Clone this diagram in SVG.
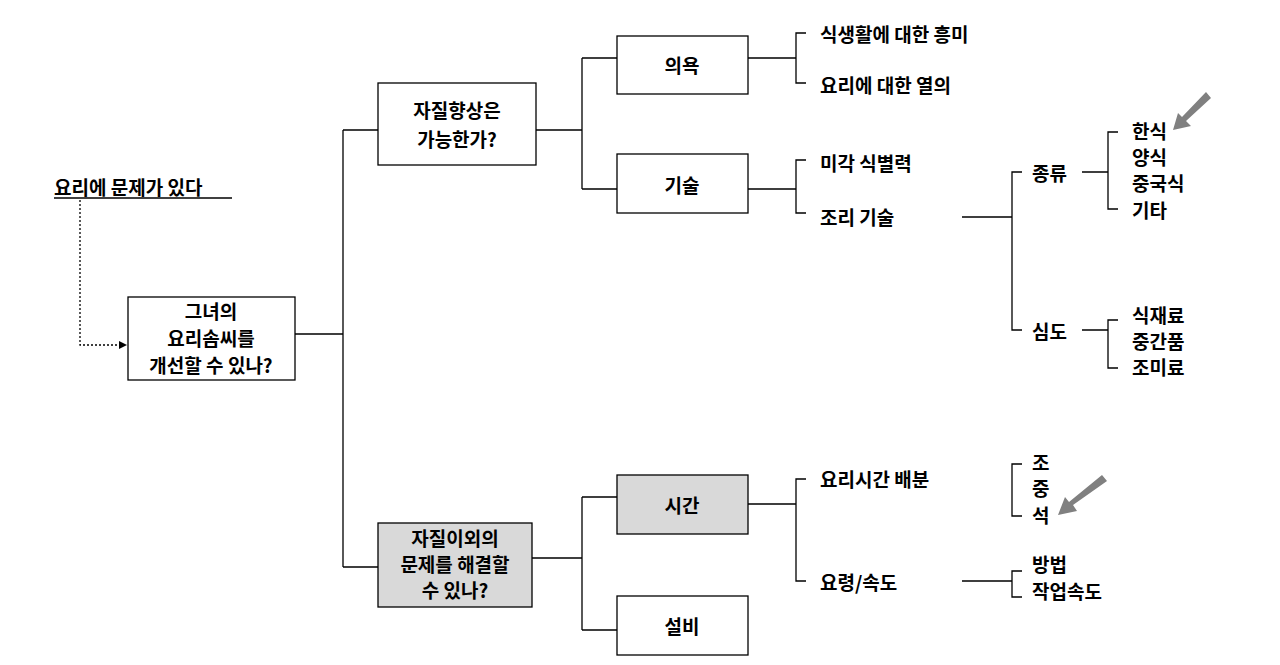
<svg xmlns="http://www.w3.org/2000/svg" width="1280" height="665" viewBox="0 0 1280 665">
<style>
text{font-family:"Noto Sans CJK KR","Noto Sans",sans-serif;font-weight:bold;font-size:19px;fill:#000;dominant-baseline:central}
.c{text-anchor:middle}
.box{fill:#fff;stroke:#000;stroke-width:1.3}
.g{fill:#d9d9d9}
#connectors path{fill:none;stroke:#000;stroke-width:1.3}
</style>
<defs>
<marker id="ah" markerWidth="8" markerHeight="8" refX="7" refY="4" orient="auto" markerUnits="userSpaceOnUse"><path d="M0,0 L8,4 L0,8 z" fill="#000"/></marker>
</defs>
<rect width="1280" height="665" fill="#fff"/>
<g id="title"><text x="54" y="186">요리에 문제가 있다</text><line x1="54" y1="198" x2="232" y2="198" stroke="#000" stroke-width="1.5"/></g>
<g id="connectors">
<path d="M80,200 V345 H126" stroke-dasharray="2,2" marker-end="url(#ah)"/>
<path d="M295,334 H343 M343,130 V567 M343,130 H378 M343,567 H378"/>
<path d="M536,130 H582 M582,58 V189 M582,58 H617 M582,189 H617"/>
<path d="M532,558 H582 M582,497 V630 M582,497 H617 M582,630 H617"/>
<path d="M748,58 H796 M806,33 H796 V83 H806"/>
<path d="M748,189 H796 M806,160 H796 V213 H806"/>
<path d="M748,504 H796 M806,479 H796 V581 H806"/>
<path d="M962,217 H1012 M1022,172 H1012 V330 H1022"/>
<path d="M1082,172 H1108 M1118,132 H1108 V209 H1118"/>
<path d="M1082,330 H1108 M1118,320 H1108 V368 H1118"/>
<path d="M1022,464 H1012 V516 H1022"/>
<path d="M962,581 H1012 M1022,571 H1012 V597 H1022"/>
</g>
<g id="root"><rect class="box" x="128" y="297" width="167" height="83"/><text class="c" x="211" y="310">그녀의</text><text class="c" x="211" y="337">요리솜씨를</text><text class="c" x="211" y="364">개선할 수 있나?</text></g>
<g id="n1"><rect class="box" x="378" y="83" width="158" height="82"/><text class="c" x="457" y="109">자질향상은</text><text class="c" x="457" y="138">가능한가?</text></g>
<g id="n2"><rect class="box g" x="378" y="523" width="154" height="84"/><text class="c" x="455" y="537">자질이외의</text><text class="c" x="455" y="563">문제를 해결할</text><text class="c" x="455" y="589">수 있나?</text></g>
<g id="n3"><rect class="box" x="617" y="36" width="131" height="58"/><text class="c" x="682" y="64">의욕</text></g>
<g id="n4"><rect class="box" x="617" y="154" width="131" height="59"/><text class="c" x="682" y="184">기술</text></g>
<g id="n5"><rect class="box g" x="617" y="475" width="131" height="59"/><text class="c" x="682" y="504">시간</text></g>
<g id="n6"><rect class="box" x="617" y="596" width="131" height="59"/><text class="c" x="682" y="625">설비</text></g>
<g id="labels">
<text x="820" y="33">식생활에 대한 흥미</text>
<text x="820" y="84">요리에 대한 열의</text>
<text x="820" y="162">미각 식별력</text>
<text x="820" y="216">조리 기술</text>
<text x="1032" y="172">종류</text>
<text x="1032" y="330">심도</text>
<text x="1132" y="130">한식</text>
<text x="1132" y="156">양식</text>
<text x="1132" y="182">중국식</text>
<text x="1132" y="209">기타</text>
<text x="1132" y="314">식재료</text>
<text x="1132" y="340">중간품</text>
<text x="1132" y="366">조미료</text>
<text x="820" y="478">요리시간 배분</text>
<text x="820" y="581">요령/속도</text>
<text x="1032" y="461">조</text>
<text x="1032" y="487">중</text>
<text x="1032" y="514">석</text>
<text x="1032" y="563">방법</text>
<text x="1032" y="590">작업속도</text>
</g>
<g id="arrows" fill="#808080">
<polygon points="1206,92 1211,98 1186,121 1191,126 1173,130 1178,113 1182,117"/>
<polygon points="1102,475 1107,481 1073,505 1077,511 1058,515 1065,497 1069,502"/>
</g>
</svg>
